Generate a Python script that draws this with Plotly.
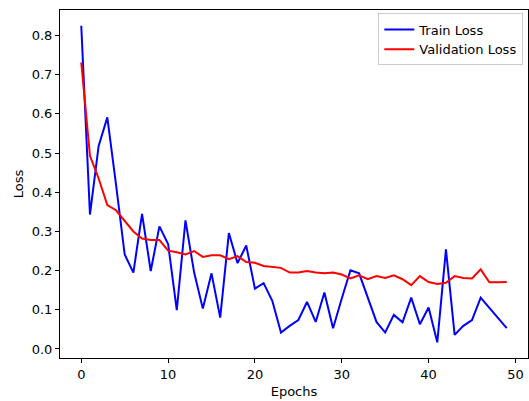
import plotly.graph_objects as go

# Per-epoch loss history
epochs = list(range(50))
train_loss = [
    0.825, 0.343, 0.518, 0.591, 0.420, 0.241, 0.195, 0.345, 0.199, 0.313,
    0.268, 0.099, 0.328, 0.195, 0.103, 0.193, 0.080, 0.296, 0.219, 0.264,
    0.154, 0.168, 0.123, 0.042, 0.059, 0.074, 0.120, 0.069, 0.144, 0.053,
    0.129, 0.201, 0.193, 0.131, 0.069, 0.042, 0.087, 0.068, 0.131, 0.063,
    0.106, 0.017, 0.254, 0.036, 0.059, 0.074, 0.131, 0.105, 0.080, 0.053,
]
val_loss = [
    0.731, 0.493, 0.435, 0.367, 0.354, 0.326, 0.300, 0.282, 0.278, 0.278,
    0.251, 0.247, 0.241, 0.250, 0.235, 0.239, 0.239, 0.229, 0.237, 0.222,
    0.220, 0.212, 0.209, 0.207, 0.195, 0.195, 0.199, 0.195, 0.193, 0.195,
    0.190, 0.180, 0.188, 0.178, 0.186, 0.181, 0.188, 0.178, 0.163, 0.186,
    0.171, 0.166, 0.169, 0.186, 0.181, 0.180, 0.203, 0.170, 0.170, 0.171,
]

x_ticks = [0, 10, 20, 30, 40, 50]
y_ticks = [0.0, 0.1, 0.2, 0.3, 0.4, 0.5, 0.6, 0.7, 0.8]

font_family = "DejaVu Sans"

fig = go.Figure()
fig.add_trace(go.Scatter(x=epochs, y=train_loss, mode="lines", name="Train Loss",
                         line=dict(color="#0000ff", width=2)))
fig.add_trace(go.Scatter(x=epochs, y=val_loss, mode="lines", name="Validation Loss",
                         line=dict(color="#ff0000", width=2)))

axis_common = dict(
    showline=True, mirror=True, linecolor="black", linewidth=1,
    ticks="outside", ticklen=4, tickwidth=1, tickcolor="black",
    showgrid=False, zeroline=False,
    tickfont=dict(family=font_family, size=13, color="black"),
)

fig.update_layout(
    width=529, height=401,
    margin=dict(l=60, r=1, t=10, b=43),
    paper_bgcolor="white", plot_bgcolor="white",
    font=dict(family=font_family, size=13, color="black"),
    xaxis=dict(range=[-2.45, 51.45], tickvals=x_ticks,
               title=dict(text="Epochs", font=dict(size=13), standoff=6),
               **axis_common),
    yaxis=dict(range=[-0.023, 0.865], tickvals=y_ticks, tickformat=".1f",
               title=dict(text="Loss", font=dict(size=13), standoff=5),
               **axis_common),
    legend=dict(x=0.99, y=0.99, xanchor="right", yanchor="top",
                bgcolor="rgba(255,255,255,0.8)", bordercolor="#cccccc", borderwidth=1,
                font=dict(family=font_family, size=13), tracegroupgap=0),
    showlegend=True,
)

fig.write_html("out.html")
